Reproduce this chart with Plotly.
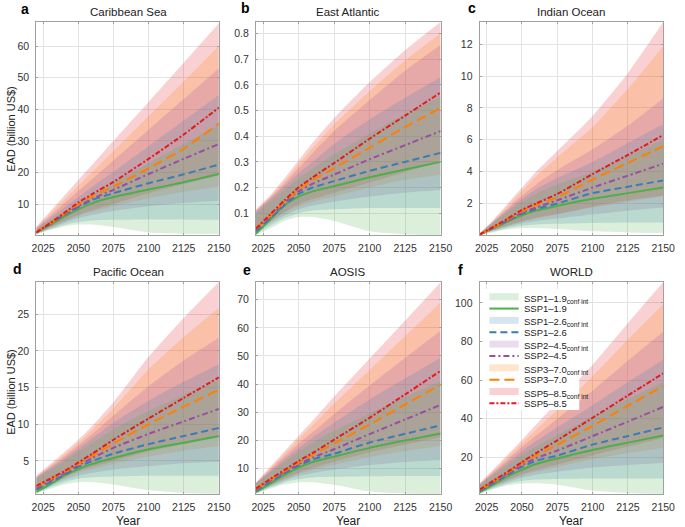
import plotly.graph_objects as go

# ---------------- data ----------------
YEARS = [2020, 2030, 2040, 2050, 2060, 2075, 2100, 2125, 2150]
SCENARIOS = ["SSP1\u20131.9", "SSP1\u20132.6", "SSP2\u20134.5", "SSP3\u20137.0", "SSP5\u20138.5"]
REGIONS = ["Caribbean Sea", "East Atlantic", "Indian Ocean", "Pacific Ocean", "AOSIS", "WORLD"]
PANEL_LETTERS = ["a", "b", "c", "d", "e", "f"]
X_TICKS = [2025, 2050, 2075, 2100, 2125, 2150]

# order of inner lists: SSP1-1.9, SSP1-2.6, SSP2-4.5, SSP3-7.0, SSP5-8.5
caribbean_median = [
    [0.9, 3.4, 6.0, 8.3, 10.3, 12.2, 14.6, 16.9, 19.5],
    [1.0, 3.7, 6.5, 9.0, 11.3, 13.4, 16.6, 19.4, 22.5],
    [1.0, 3.8, 6.7, 9.3, 11.7, 14.5, 19.5, 24.3, 29.0],
    [1.0, 3.9, 6.9, 10.0, 12.5, 15.5, 21.3, 27.5, 35.5],
    [1.0, 4.0, 7.2, 10.5, 13.2, 17.0, 24.3, 32.0, 40.5],
]
caribbean_upper = [
    [2.0, 4.8, 7.6, 10.3, 13.0, 16.8, 22.9, 29.0, 35.0],
    [2.2, 5.6, 8.9, 12.2, 15.5, 20.2, 28.3, 36.4, 44.5],
    [2.4, 6.3, 10.2, 14.1, 18.0, 23.8, 33.5, 43.2, 53.0],
    [2.6, 7.0, 11.4, 15.8, 20.2, 26.8, 37.8, 48.8, 60.0],
    [2.8, 7.7, 12.6, 17.6, 22.5, 30.0, 42.3, 54.7, 67.2],
]
caribbean_lower = [
    [0.4, 1.8, 2.9, 3.5, 3.5, 2.7, 1.0, 0.6, 0.5],
    [0.5, 2.0, 3.4, 4.3, 4.8, 5.0, 5.1, 5.1, 5.0],
    [0.6, 2.3, 4.0, 5.5, 6.6, 7.8, 9.3, 10.3, 11.0],
    [0.7, 2.5, 4.4, 6.2, 7.6, 9.3, 11.8, 13.9, 15.5],
    [0.8, 2.7, 4.7, 6.6, 8.1, 10.0, 13.4, 16.3, 19.0],
]

east_atlantic_median = [
    [0.02, 0.075, 0.13, 0.165, 0.185, 0.205, 0.24, 0.27, 0.30],
    [0.03, 0.08, 0.13, 0.175, 0.20, 0.225, 0.265, 0.30, 0.335],
    [0.035, 0.085, 0.14, 0.185, 0.215, 0.25, 0.31, 0.365, 0.42],
    [0.04, 0.09, 0.145, 0.19, 0.23, 0.275, 0.355, 0.435, 0.51],
    [0.04, 0.095, 0.15, 0.20, 0.24, 0.295, 0.39, 0.48, 0.57],
]
east_atlantic_upper = [
    [0.10, 0.145, 0.19, 0.235, 0.275, 0.33, 0.41, 0.485, 0.555],
    [0.105, 0.155, 0.205, 0.255, 0.30, 0.37, 0.465, 0.55, 0.63],
    [0.11, 0.16, 0.215, 0.275, 0.335, 0.42, 0.54, 0.655, 0.755],
    [0.11, 0.165, 0.225, 0.29, 0.355, 0.445, 0.575, 0.695, 0.80],
    [0.115, 0.17, 0.235, 0.305, 0.375, 0.47, 0.61, 0.735, 0.845],
]
east_atlantic_lower = [
    [0.015, 0.04, 0.07, 0.085, 0.085, 0.07, 0.03, 0.018, 0.015],
    [0.02, 0.05, 0.08, 0.10, 0.11, 0.115, 0.12, 0.12, 0.12],
    [0.025, 0.06, 0.09, 0.115, 0.13, 0.145, 0.165, 0.18, 0.19],
    [0.03, 0.065, 0.10, 0.125, 0.145, 0.165, 0.20, 0.23, 0.25],
    [0.03, 0.07, 0.105, 0.135, 0.155, 0.18, 0.22, 0.26, 0.30],
]

indian_median = [
    [0.05, 0.45, 0.87, 1.25, 1.55, 1.85, 2.3, 2.65, 3.0],
    [0.05, 0.48, 0.92, 1.35, 1.65, 2.0, 2.65, 3.05, 3.45],
    [0.05, 0.5, 0.95, 1.42, 1.75, 2.2, 3.0, 3.75, 4.5],
    [0.05, 0.5, 1.0, 1.5, 1.9, 2.4, 3.5, 4.55, 5.6],
    [0.05, 0.55, 1.05, 1.6, 2.0, 2.6, 3.85, 5.05, 6.3],
]
indian_upper = [
    [0.1, 0.8, 1.5, 2.1, 2.6, 3.2, 4.0, 5.0, 6.0],
    [0.1, 0.85, 1.6, 2.3, 2.9, 3.6, 4.6, 5.8, 7.0],
    [0.11, 0.9, 1.7, 2.5, 3.2, 4.1, 5.4, 6.9, 8.6],
    [0.12, 0.95, 1.85, 2.8, 3.7, 4.9, 6.8, 9.2, 11.9],
    [0.12, 1.0, 2.0, 3.0, 4.0, 5.3, 7.5, 10.2, 13.4],
]
indian_lower = [
    [0.03, 0.2, 0.38, 0.45, 0.45, 0.4, 0.25, 0.18, 0.15],
    [0.03, 0.25, 0.45, 0.6, 0.68, 0.72, 0.77, 0.8, 0.8],
    [0.04, 0.3, 0.55, 0.75, 0.9, 1.05, 1.3, 1.55, 1.75],
    [0.04, 0.32, 0.6, 0.85, 1.05, 1.3, 1.75, 2.1, 2.45],
    [0.04, 0.33, 0.62, 0.88, 1.1, 1.35, 1.8, 2.2, 2.5],
]

pacific_median = [
    [0.8, 1.8, 3.0, 3.9, 4.6, 5.4, 6.6, 7.5, 8.4],
    [1.1, 2.1, 3.1, 4.2, 5.0, 6.0, 7.3, 8.4, 9.5],
    [1.3, 2.3, 3.3, 4.4, 5.4, 6.8, 8.7, 10.4, 12.1],
    [1.5, 2.5, 3.5, 4.6, 5.7, 7.4, 10.0, 12.4, 14.7],
    [1.6, 2.6, 3.6, 4.8, 6.0, 7.9, 10.8, 13.6, 16.4],
]
pacific_upper = [
    [2.6, 3.8, 5.0, 6.3, 7.5, 9.3, 11.8, 14.0, 16.0],
    [2.7, 4.0, 5.3, 6.7, 8.1, 10.2, 13.2, 15.8, 18.2],
    [2.8, 4.2, 5.6, 7.1, 8.7, 11.2, 15.2, 18.7, 21.8],
    [2.9, 4.4, 5.9, 7.5, 9.3, 12.2, 17.5, 21.9, 25.9],
    [3.0, 4.6, 6.2, 7.9, 9.8, 13.0, 19.2, 24.5, 29.4],
]
pacific_lower = [
    [0.55, 1.2, 1.8, 2.1, 2.1, 1.8, 1.0, 0.65, 0.55],
    [0.65, 1.4, 2.1, 2.6, 2.8, 2.9, 3.0, 3.0, 3.0],
    [0.7, 1.6, 2.4, 3.0, 3.4, 3.8, 4.3, 4.7, 4.9],
    [0.75, 1.7, 2.6, 3.4, 3.9, 4.6, 5.6, 6.4, 7.0],
    [0.8, 1.8, 2.8, 3.6, 4.2, 5.0, 6.3, 7.3, 8.2],
]

aosis_median = [
    [1.6, 4.6, 7.6, 10.3, 12.3, 14.2, 17.3, 19.9, 22.4],
    [2.0, 5.2, 8.2, 11.0, 13.2, 15.2, 19.2, 22.3, 25.3],
    [2.3, 5.6, 8.6, 11.5, 13.9, 16.8, 22.2, 27.4, 32.6],
    [2.6, 5.9, 9.0, 12.0, 14.8, 18.8, 25.6, 32.7, 39.8],
    [2.8, 6.2, 9.4, 12.6, 15.5, 20.2, 28.0, 36.3, 44.7],
]
aosis_upper = [
    [4.6, 8.5, 12.3, 15.9, 19.2, 23.3, 29.6, 35.5, 41.0],
    [4.7, 9.0, 13.2, 17.3, 21.0, 26.2, 34.5, 42.0, 49.4],
    [4.8, 9.5, 14.2, 18.8, 23.0, 29.3, 39.5, 49.3, 59.0],
    [4.9, 10.0, 15.2, 20.3, 25.4, 33.0, 45.0, 57.0, 69.0],
    [5.0, 10.5, 16.0, 21.5, 27.0, 35.5, 49.0, 62.5, 76.2],
]
aosis_lower = [
    [1.0, 2.8, 4.3, 5.0, 5.0, 4.2, 1.8, 1.1, 0.9],
    [1.2, 3.2, 5.0, 6.2, 6.8, 7.0, 7.2, 7.3, 7.3],
    [1.3, 3.5, 5.6, 7.3, 8.4, 9.6, 11.2, 12.3, 13.0],
    [1.4, 3.8, 6.1, 8.0, 9.5, 11.3, 14.0, 16.2, 18.0],
    [1.5, 4.0, 6.4, 8.5, 10.2, 12.5, 15.7, 18.5, 21.0],
]

world_median = [
    [1.8, 6.0, 10.1, 13.5, 16.5, 19.4, 23.8, 27.6, 31.3],
    [2.4, 6.7, 11.0, 15.0, 18.2, 20.9, 26.6, 31.0, 35.5],
    [2.8, 7.3, 11.7, 16.0, 19.6, 23.5, 31.0, 38.5, 46.1],
    [3.1, 7.7, 12.2, 16.8, 21.0, 26.5, 36.3, 46.7, 57.0],
    [3.3, 8.0, 12.6, 17.5, 22.2, 28.8, 40.5, 52.0, 63.5],
]
world_upper = [
    [5.7, 11.0, 16.2, 21.2, 25.6, 31.5, 41.0, 50.2, 59.0],
    [5.9, 11.8, 17.5, 23.2, 28.4, 35.5, 47.0, 59.0, 70.5],
    [6.1, 12.5, 18.9, 25.3, 31.3, 40.0, 54.5, 70.0, 85.0],
    [6.3, 13.3, 20.3, 27.3, 34.3, 44.5, 62.0, 81.0, 99.4],
    [6.5, 14.0, 21.5, 29.0, 37.0, 48.5, 68.0, 89.5, 110.8],
]
world_lower = [
    [1.2, 3.5, 5.5, 6.5, 6.6, 5.8, 2.8, 1.5, 1.0],
    [1.5, 4.0, 6.3, 7.8, 8.5, 8.8, 9.0, 9.0, 9.0],
    [1.7, 4.5, 7.2, 9.5, 11.0, 12.5, 14.7, 16.0, 17.0],
    [1.9, 5.0, 8.0, 10.6, 12.6, 15.0, 19.0, 22.2, 25.0],
    [2.0, 5.2, 8.4, 11.2, 13.4, 16.3, 21.0, 25.6, 30.0],
]

y_ranges = [[0.2, 67.6], [0.015, 0.845], [0.02, 13.4], [0.5, 29.4], [0.9, 76.3], [1.0, 110.8]]
y_dticks = [10, 0.1, 2, 5, 10, 20]
y_tick0s = [10, 0.1, 2, 5, 10, 20]

# ---------------- styles ----------------
COLORS = ["#4daf4a", "#377eb8", "#984ea3", "#ff7f00", "#e41a1c"]
DASHES = ["solid", "7px,4px", "6px,3px,2px,3px", "10px,5px", "5px,2px,2px,2px"]
FONT = "Liberation Sans, Arial, sans-serif"
W, H = 685, 527


def rgba(hexc, a):
    h = hexc.lstrip("#")
    r, g, b = int(h[0:2], 16), int(h[2:4], 16), int(h[4:6], 16)
    return f"rgba({r},{g},{b},{a})"


def px(x):
    return x / W


def py(y):
    return 1 - y / H


region_data = [
    (caribbean_median, caribbean_lower, caribbean_upper),
    (east_atlantic_median, east_atlantic_lower, east_atlantic_upper),
    (indian_median, indian_lower, indian_upper),
    (pacific_median, pacific_lower, pacific_upper),
    (aosis_median, aosis_lower, aosis_upper),
    (world_median, world_lower, world_upper),
]

x_domains = [[33 / W, 220 / W], [258 / W, 447 / W], [487 / W, 675 / W]]
y_domains = [[py(235), py(22)], [py(494), py(282)]]

fig = go.Figure()
SMOOTH = 0.6

for p, (med, low, up) in enumerate(region_data):
    xa = "x" if p == 0 else f"x{p+1}"
    ya = "y" if p == 0 else f"y{p+1}"
    # bands (widest scenario first so the SSP1-1.9 band ends on top)
    for s in reversed(range(5)):
        fig.add_trace(go.Scatter(x=YEARS, y=low[s], mode="lines",
                                 line=dict(width=0, color=COLORS[s], shape="spline", smoothing=SMOOTH),
                                 showlegend=False, hoverinfo="skip", xaxis=xa, yaxis=ya))
        fig.add_trace(go.Scatter(x=YEARS, y=up[s], mode="lines",
                                 line=dict(width=0, color=COLORS[s], shape="spline", smoothing=SMOOTH),
                                 fill="tonexty", fillcolor=rgba(COLORS[s], 0.2),
                                 name=SCENARIOS[s] + " conf int", showlegend=False,
                                 hoverinfo="skip", xaxis=xa, yaxis=ya))
    # median lines
    for s in range(5):
        fig.add_trace(go.Scatter(x=YEARS, y=med[s], mode="lines",
                                 line=dict(width=2, color=COLORS[s], dash=DASHES[s],
                                           shape="spline", smoothing=SMOOTH),
                                 name=SCENARIOS[s], showlegend=False, xaxis=xa, yaxis=ya))

layout = dict(
    width=W, height=H, margin=dict(l=0, r=0, t=0, b=0),
    paper_bgcolor="white", plot_bgcolor="white",
    font=dict(family=FONT, color="#333333", size=10),
    showlegend=False,
)
for p in range(6):
    r, c = divmod(p, 3)
    xk = "xaxis" if p == 0 else f"xaxis{p+1}"
    yk = "yaxis" if p == 0 else f"yaxis{p+1}"
    ya = "y" if p == 0 else f"y{p+1}"
    xa = "x" if p == 0 else f"x{p+1}"
    layout[xk] = dict(domain=x_domains[c], anchor=ya, range=[2020, 2150], tickvals=X_TICKS,
                      showgrid=True, gridcolor="#e3e3e3", gridwidth=1, zeroline=False,
                      showline=True, linecolor="#a0a0a0", linewidth=1, mirror="ticks",
                      ticks="inside", ticklen=2, tickcolor="#a0a0a0",
                      tickfont=dict(size=10.5, color="#333333"), ticklabelstandoff=3)
    layout[yk] = dict(domain=y_domains[r], anchor=xa, range=y_ranges[p], tick0=y_tick0s[p],
                      dtick=y_dticks[p], showgrid=True, gridcolor="#e3e3e3", gridwidth=1,
                      zeroline=False, showline=True, linecolor="#a0a0a0", linewidth=1,
                      mirror="ticks", ticks="inside", ticklen=2, tickcolor="#a0a0a0",
                      tickfont=dict(size=10.5, color="#333333"), ticklabelstandoff=4)
fig.update_layout(**layout)

annotations = []
shapes = []
title_centers = [(127, 12), (352, 12), (581, 12), (127, 272), (352, 272), (581, 272)]
letter_pos = [(22, 9), (247, 8), (479, 8), (14, 269), (249, 270), (467, 270)]
for p in range(6):
    tx, ty = title_centers[p]
    annotations.append(dict(x=px(tx), y=py(ty), xref="paper", yref="paper", text=REGIONS[p],
                            showarrow=False, xanchor="center", yanchor="middle",
                            font=dict(size=11.5, color="#222222", family=FONT)))
    lx, ly = letter_pos[p]
    annotations.append(dict(x=px(lx), y=py(ly), xref="paper", yref="paper",
                            text="<b>" + PANEL_LETTERS[p] + "</b>", showarrow=False,
                            xanchor="center", yanchor="middle",
                            font=dict(size=14, color="#000000", family=FONT)))
for yc in (129, 392):
    annotations.append(dict(x=px(7), y=py(yc), xref="paper", yref="paper",
                            text="EAD (billion US$)", textangle=-90, showarrow=False,
                            xanchor="center", yanchor="middle",
                            font=dict(size=11, color="#222222", family=FONT)))
for xc in (127, 352, 581):
    annotations.append(dict(x=px(xc), y=py(521), xref="paper", yref="paper", text="Year",
                            showarrow=False, xanchor="center", yanchor="middle",
                            font=dict(size=12, color="#222222", family=FONT)))

# custom legend inside panel f
shapes.append(dict(type="rect", xref="paper", yref="paper", x0=px(491), x1=px(589),
                   y0=py(410), y1=py(289), fillcolor="white", line=dict(width=0), layer="above"))
row_y0 = 296.7
row_step = 11.85
for s in range(5):
    yb = row_y0 + (2 * s) * row_step
    yl = row_y0 + (2 * s + 1) * row_step
    shapes.append(dict(type="rect", xref="paper", yref="paper", x0=px(497), x1=px(527),
                       y0=py(yb + 3.5), y1=py(yb - 3.5), fillcolor=rgba(COLORS[s], 0.2),
                       line=dict(width=0), layer="above"))
    shapes.append(dict(type="line", xref="paper", yref="paper", x0=px(497), x1=px(527),
                       y0=py(yl), y1=py(yl), line=dict(color=COLORS[s], width=2, dash=DASHES[s]),
                       layer="above"))
    annotations.append(dict(x=px(530), y=py(yb), xref="paper", yref="paper",
                            text=SCENARIOS[s] + "<sub>conf int</sub>", showarrow=False,
                            xanchor="left", yanchor="middle", yshift=-2,
                            font=dict(size=9.5, color="#222222", family=FONT)))
    annotations.append(dict(x=px(530), y=py(yl), xref="paper", yref="paper",
                            text=SCENARIOS[s], showarrow=False,
                            xanchor="left", yanchor="middle",
                            font=dict(size=9.5, color="#222222", family=FONT)))

fig.update_layout(annotations=annotations, shapes=shapes)
fig.write_html("out.html", config={"displayModeBar": False},
               post_script="document.body.style.margin='0px';")
